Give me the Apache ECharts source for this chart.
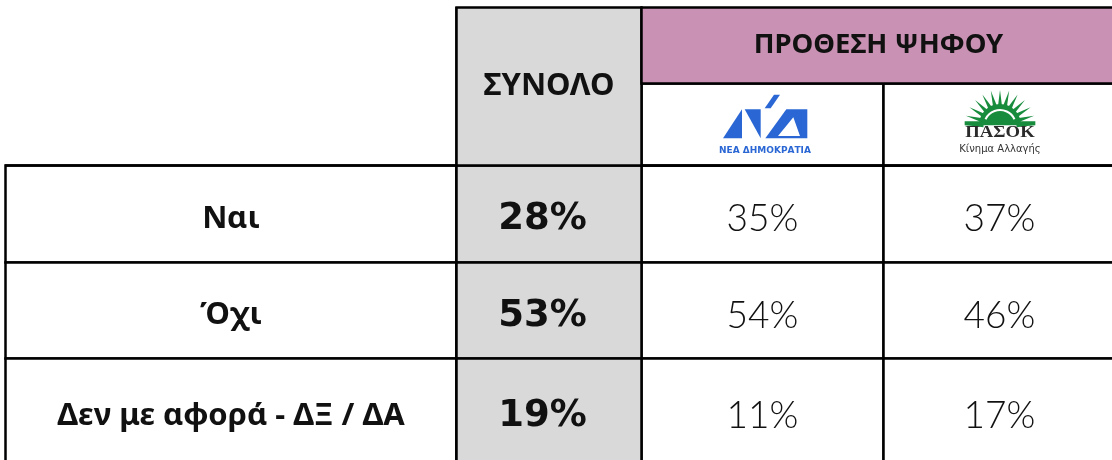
<!DOCTYPE html>
<html>
<head>
<meta charset="utf-8">
<script src="https://cdn.jsdelivr.net/npm/echarts@6/dist/echarts.min.js"></script>
<style>
  html, body { margin: 0; background: #fff; }
  #main { width: 1112px; height: 460px; }
</style>
</head>
<body>
<div id="main"></div>
<script>
// data
var rowLabels = ['Ναι', 'Όχι', 'Δεν με αφορά - ΔΞ / ΔΑ'];
var totalLabel = 'ΣΥΝΟΛΟ';
var groupLabel = 'ΠΡΟΘΕΣΗ ΨΗΦΟΥ';
var partyLabels = ['ΝΔ', 'ΠΑΣΟΚ'];
var totalValues = [28, 53, 19];
var ndValues = [35, 54, 11];
var pasokValues = [37, 46, 17];

// styles
var GRAY = '#d9d9d9';
var PURPLE = '#c991b3';
var LINE = '#000';
var LW = 2.5;
var BOLD_FONT = '"Noto Sans", "DejaVu Sans", sans-serif';
var NUM_FONT = 'Lato, "Noto Sans", sans-serif';
var ND_BLUE = '#2a67d4';
var PASOK_GREEN = '#178c3c';

var chart = echarts.init(document.getElementById('main'));

// body cells; the trailing space in the totals matches the source's slight left shift
var bodyData = [];
rowLabels.forEach(function (row, i) {
    bodyData.push({
        coord: [totalLabel, row],
        value: totalValues[i] + '% ',
        itemStyle: { color: GRAY },
        label: { fontFamily: 'DejaVu Sans', fontWeight: 'bold', fontSize: 37 }
    });
    bodyData.push({ coord: [partyLabels[0], row], value: ndValues[i] + '%' });
    bodyData.push({ coord: [partyLabels[1], row], value: pasokValues[i] + '%' });
});

// PASOK sun rays, drawn at 3x then scaled down
var rays = [];
for (var k = 0; k <= 12; k++) {
    var a = k * 15 * Math.PI / 180, d = 8 * Math.PI / 180;
    rays.push({
        type: 'polygon',
        shape: { points: [
            [126 + 50 * Math.cos(a - d), 111 - 50 * Math.sin(a - d)],
            [126 + 106 * Math.cos(a), 111 - 106 * Math.sin(a)],
            [126 + 50 * Math.cos(a + d), 111 - 50 * Math.sin(a + d)]
        ] },
        style: { fill: PASOK_GREEN }
    });
}

var option = {
    animation: false,
    matrix: {
        left: 5,
        top: 7,
        width: 1110,
        height: 456,
        backgroundStyle: { color: 'transparent', borderWidth: 0 },
        corner: { itemStyle: { color: 'transparent', borderWidth: 0 } },
        x: {
            levels: [{ levelSize: 76 }, { levelSize: 82 }],
            itemStyle: { color: '#fff', borderColor: LINE, borderWidth: LW },
            label: { fontFamily: BOLD_FONT, fontWeight: 'bold', fontSize: 27.5, color: '#111', overflow: 'none' },
            dividerLineStyle: { color: LINE, width: LW },
            data: [
                { value: totalLabel, size: 185, itemStyle: { color: GRAY },
                  label: { fontSize: 31 } },
                { value: groupLabel, itemStyle: { color: PURPLE },
                  children: [
                      { value: partyLabels[0], size: 242, label: { show: false } },
                      { value: partyLabels[1], label: { show: false } }
                  ] }
            ]
        },
        y: {
            levelSize: 451,
            itemStyle: { color: '#fff', borderColor: LINE, borderWidth: LW },
            // top-aligned with a tiny line height = text sits a few px below the middle
            label: { fontFamily: BOLD_FONT, fontWeight: 'bold', fontSize: 31, color: '#111',
                     overflow: 'none', verticalAlign: 'top', lineHeight: 6 },
            dividerLineStyle: { color: LINE, width: LW },
            data: [
                { value: rowLabels[0], size: 97 },
                { value: rowLabels[1], size: 96 },
                { value: rowLabels[2] }
            ]
        },
        body: {
            itemStyle: { color: '#fff', borderColor: LINE, borderWidth: LW },
            label: { fontFamily: NUM_FONT, fontWeight: 300, fontSize: 37, color: '#111',
                     overflow: 'none', verticalAlign: 'top', lineHeight: 7 },
            data: bodyData
        }
    },
    graphic: [
        {
            type: 'group', x: 718, y: 90, scaleX: 1 / 3, scaleY: 1 / 3, z: 100,
            children: [
                { type: 'polygon', shape: { points: [[15, 145], [72, 145], [72, 58]] }, style: { fill: ND_BLUE } },
                { type: 'polygon', shape: { points: [[80, 58], [128, 58], [128, 145]] }, style: { fill: ND_BLUE } },
                { type: 'polygon', shape: { points: [[140, 55], [168, 14], [186, 14], [158, 55]] }, style: { fill: ND_BLUE } },
                { type: 'polygon', shape: { points: [[142, 145], [268, 145], [268, 58], [205, 58]] }, style: { fill: ND_BLUE } },
                { type: 'polygon', shape: { points: [[180, 138], [246, 138], [226, 82]] }, style: { fill: '#fff' } }
            ]
        },
        {
            type: 'text', x: 765, y: 151, z: 100,
            style: { text: 'ΝΕΑ ΔΗΜΟΚΡΑΤΙΑ', fill: ND_BLUE, font: 'bold 9px "DejaVu Sans", sans-serif',
                     textAlign: 'center', textVerticalAlign: 'middle' }
        },
        {
            type: 'group', x: 958, y: 88, scaleX: 1 / 3, scaleY: 1 / 3, z: 100,
            children: rays.concat([
                { type: 'sector', shape: { cx: 126, cy: 111, r: 63, startAngle: Math.PI, endAngle: 2 * Math.PI },
                  style: { fill: PASOK_GREEN } },
                { type: 'rect', shape: { x: 20, y: 100, width: 212, height: 12 }, style: { fill: PASOK_GREEN } },
                { type: 'arc', shape: { cx: 126, cy: 114, r: 48, startAngle: -155 * Math.PI / 180, endAngle: -25 * Math.PI / 180 },
                  style: { stroke: '#fff', lineWidth: 6, fill: null } }
            ])
        },
        {
            type: 'text', x: 1000, y: 133, z: 100, scaleX: 1.1,
            style: { text: 'ΠΑΣΟΚ', fill: '#2b2b2b', font: 'bold 17px "Liberation Serif", serif',
                     textAlign: 'center', textVerticalAlign: 'middle' }
        },
        {
            type: 'text', x: 1000, y: 149, z: 100,
            style: { text: 'Κίνημα Αλλαγής', fill: '#333', font: '10px "DejaVu Sans", sans-serif',
                     textAlign: 'center', textVerticalAlign: 'middle' }
        }
    ]
};

chart.setOption(option);
</script>
</body>
</html>
